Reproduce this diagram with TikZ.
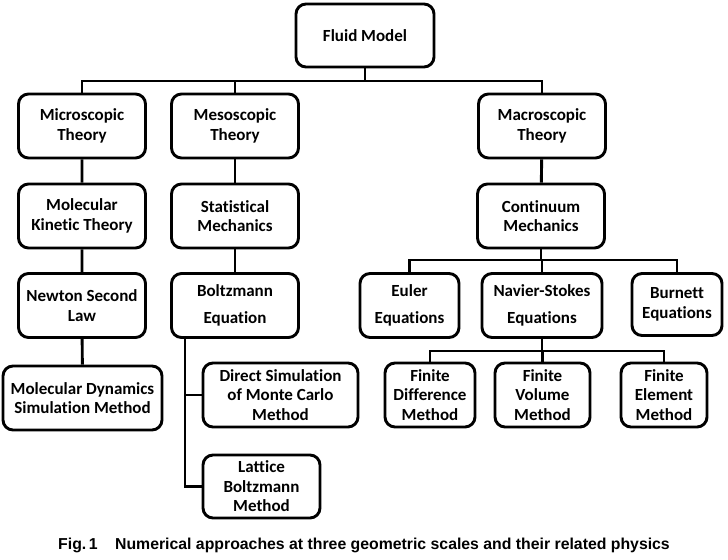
\documentclass[tikz,border=0pt]{standalone}
\usepackage{fontspec}
\setmainfont{Carlito}[Ligatures=NoCommon]
\newfontfamily\capfont{Liberation Sans}
\usepackage{tikz}
\usetikzlibrary{calc}

\begin{document}
\begin{tikzpicture}[x=0.03cm,y=-0.03cm,
	box/.style={draw,line width=2.5pt,rounded corners=0.3cm,align=center,inner sep=1pt,font=\bfseries\fontsize{14.5}{16.6}\selectfont,minimum width=3.81cm,minimum height=1.92cm},
	link/.style={line width=2.5pt}]
\useasboundingbox (0,0) rectangle (728,560);
\node[box,minimum width=4.14cm,minimum height=1.89cm] (fluid) at (365,35.5) {Fluid Model};
\node[box] (micro) at (82,126) {Microscopic\\Theory};
\node[box] (meso) at (235,126) {Mesoscopic\\Theory};
\node[box] (macro) at (542,126) {Macroscopic\\Theory};
\node[box] (kinetic) at (82,216) {Molecular\\Kinetic Theory};
\node[box] (stat) at (235,216) {Statistical\\Mechanics};
\node[box] (cont) at (541,216) {Continuum\\Mechanics};
\node[box] (newton) at (82,305.5) {Newton Second\\Law};
\node[box] (boltz) at (235,305.5) {Boltzmann\\[0.22cm]Equation};
\node[box,minimum width=2.97cm] (euler) at (409.5,305.5) {Euler\\[0.22cm]Equations};
\node[box,minimum width=3.6cm] (navier) at (542,305.5) {Navier-Stokes\\[0.22cm]Equations};
\node[box,minimum width=2.7cm,minimum height=1.86cm] (burnett) at (677,304.5) {Burnett\\Equations};
\node[box,minimum width=4.77cm] (md) at (82.5,398) {Molecular Dynamics\\Simulation Method};
\node[box,minimum width=4.65cm] (dsmc) at (280.5,395) {Direct Simulation\\of Monte Carlo\\Method};
\node[box,minimum width=3.51cm,minimum height=1.89cm] (lbm) at (261.5,486.5) {Lattice\\Boltzmann\\Method};
\node[box,minimum width=2.7cm] (fdm) at (430,395) {Finite\\Difference\\Method};
\node[box,minimum width=2.85cm] (fvm) at (542.5,395) {Finite\\Volume\\Method};
\node[box,minimum width=2.58cm] (fem) at (664,395) {Finite\\Element\\Method};
\coordinate (top) at (365,81);
\coordinate (mid) at (541,260);
\coordinate (low) at (542,351);
\coordinate (trunk) at (185,337);
\draw[link] (fluid.south) -- (top);
\draw[link] (micro.north) -- (micro.north |- top) -- (macro.north |- top) -- (macro.north);
\draw[link] (meso.north) -- (meso.north |- top);
\draw[link] (micro) -- (kinetic) -- (newton) -- (md);
\draw[link] (meso) -- (stat) -- (boltz);
\draw[link] (macro) -- (cont);
\draw[link] (cont.south) -- (mid);
\draw[link] (euler.north) -- (euler.north |- mid) -- (burnett.north |- mid) -- (burnett.north);
\draw[link] (navier.north) -- (navier.north |- mid);
\draw[link] (navier.south) -- (low);
\draw[link] (fdm.north) -- (fdm.north |- low) -- (fem.north |- low) -- (fem.north);
\draw[link] (fvm.north) -- (fvm.north |- low);
\draw[link] (trunk) -- (trunk |- lbm.west) -- (lbm.west);
\draw[link] (trunk |- dsmc.west) -- (dsmc.west);
\node[font=\capfont\bfseries\fontsize{13.5}{16}\selectfont] (cap) at (364,545) {Fig.\,1\hspace{1.1em}Numerical approaches at three geometric scales and their related physics};
\end{tikzpicture}
\end{document}
